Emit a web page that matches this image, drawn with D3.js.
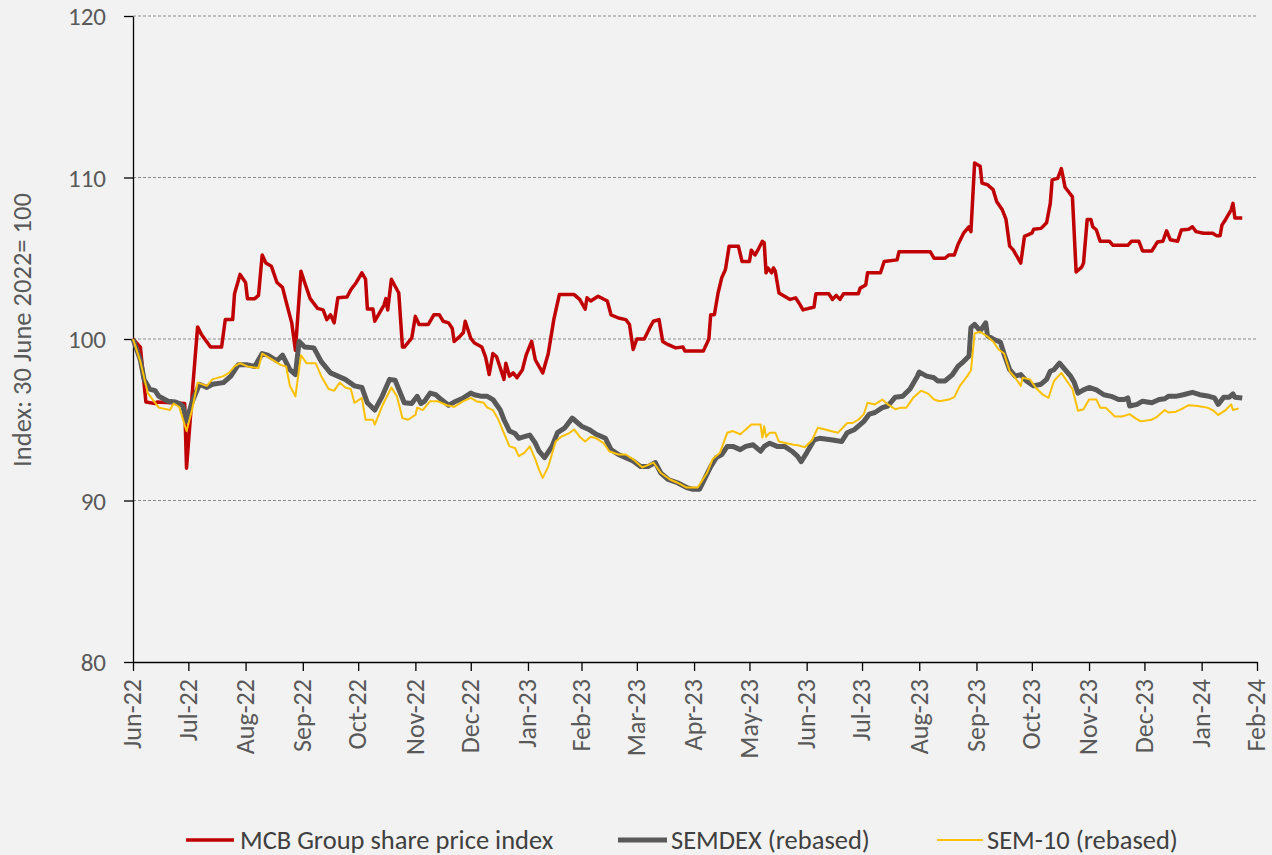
<!DOCTYPE html>
<html><head><meta charset="utf-8">
<script src="https://cdn.jsdelivr.net/npm/d3@7"></script>
<style>
html,body{margin:0;padding:0;background:#f2f2f2;}
svg{display:block;}
text{font-family:Carlito, Calibri, Lato, "Open Sans", sans-serif;}
</style></head><body>
<svg id="chart" width="1272" height="855"></svg>
<script>
// ---------- DATA ----------
const seriesNames = ["MCB Group share price index", "SEMDEX (rebased)", "SEM-10 (rebased)"];
const yAxisTitle = "Index: 30 June 2022= 100";
const yTicks = [80, 90, 100, 110, 120];
const xDomain = ["2022-06-30", "2024-02-29"];
const xTickDates = ["2022-06-30","2022-07-30","2022-08-30","2022-09-30","2022-10-30","2022-11-30","2022-12-30",
  "2023-01-30","2023-02-28","2023-03-30","2023-04-30","2023-05-30","2023-06-30","2023-07-30","2023-08-30",
  "2023-09-30","2023-10-30","2023-11-30","2023-12-30","2024-01-30","2024-02-29"];

const mcb = [
["2022-06-30",100],["2022-07-04",99.5],["2022-07-07",96.1],["2022-07-12",96.0],["2022-07-13",96.1],["2022-07-28",96.0],
["2022-07-29",92.0],["2022-08-01",96.5],["2022-08-04",100.75],["2022-08-06",100.3],["2022-08-11",99.5],["2022-08-17",99.5],
["2022-08-19",101.2],["2022-08-23",101.2],["2022-08-24",102.8],["2022-08-27",104.0],["2022-08-30",103.5],["2022-08-31",102.5],
["2022-09-04",102.5],["2022-09-06",102.7],["2022-09-08",105.2],["2022-09-10",104.7],["2022-09-13",104.5],["2022-09-16",103.5],
["2022-09-19",103.2],["2022-09-21",102.3],["2022-09-24",101.0],["2022-09-26",99.3],["2022-09-29",104.2],["2022-10-01",103.5],
["2022-10-04",102.5],["2022-10-08",101.9],["2022-10-11",101.8],["2022-10-13",101.2],["2022-10-15",101.5],["2022-10-17",101.0],
["2022-10-19",102.55],["2022-10-24",102.6],["2022-10-26",103.05],["2022-10-29",103.5],["2022-11-01",104.1],["2022-11-03",103.7],
["2022-11-04",101.85],["2022-11-07",101.85],["2022-11-08",101.1],["2022-11-13",102.1],["2022-11-14",102.5],["2022-11-15",101.8],
["2022-11-17",103.7],["2022-11-21",102.85],["2022-11-23",99.5],["2022-11-24",99.5],["2022-11-28",100.05],["2022-11-30",101.4],
["2022-12-02",100.9],["2022-12-07",100.9],["2022-12-10",101.5],["2022-12-13",101.5],["2022-12-15",101.1],["2022-12-18",101.0],
["2022-12-20",100.65],["2022-12-21",99.85],["2022-12-24",100.15],["2022-12-26",100.4],["2022-12-27",101.1],["2022-12-30",100.05],
["2023-01-01",99.75],["2023-01-05",99.5],["2023-01-07",98.9],["2023-01-09",97.8],["2023-01-11",99.1],["2023-01-13",98.9],
["2023-01-15",98.2],["2023-01-17",97.5],["2023-01-18",98.5],["2023-01-20",97.7],["2023-01-22",97.9],["2023-01-24",97.6],
["2023-01-27",98.1],["2023-01-29",99.0],["2023-02-01",99.85],["2023-02-03",98.7],["2023-02-05",98.3],["2023-02-07",97.9],
["2023-02-10",99.1],["2023-02-13",101.2],["2023-02-16",102.75],["2023-02-24",102.75],["2023-02-27",102.45],["2023-03-02",101.85],
["2023-03-03",102.55],["2023-03-05",102.35],["2023-03-09",102.65],["2023-03-14",102.35],["2023-03-16",101.5],["2023-03-20",101.3],
["2023-03-24",101.2],["2023-03-26",100.9],["2023-03-28",99.35],["2023-03-30",100.0],["2023-04-03",100.0],["2023-04-06",100.7],
["2023-04-08",101.1],["2023-04-11",101.2],["2023-04-13",99.85],["2023-04-16",99.65],["2023-04-20",99.45],["2023-04-24",99.5],
["2023-04-25",99.25],["2023-05-05",99.25],["2023-05-08",100.0],["2023-05-09",101.5],["2023-05-11",101.5],["2023-05-13",102.85],
["2023-05-15",103.8],["2023-05-17",104.3],["2023-05-19",105.75],["2023-05-24",105.75],["2023-05-26",104.8],["2023-05-30",104.8],
["2023-05-31",105.5],["2023-06-02",105.2],["2023-06-04",105.6],["2023-06-06",106.05],["2023-06-07",105.95],["2023-06-08",104.1],
["2023-06-09",104.4],["2023-06-11",104.1],["2023-06-12",104.4],["2023-06-13",104.2],["2023-06-15",102.85],["2023-06-18",102.65],
["2023-06-21",102.45],["2023-06-24",102.55],["2023-06-26",102.2],["2023-06-28",101.8],["2023-07-04",101.98],["2023-07-05",102.8],
["2023-07-12",102.8],["2023-07-14",102.45],["2023-07-16",102.7],["2023-07-18",102.45],["2023-07-20",102.8],["2023-07-28",102.8],
["2023-07-29",103.15],["2023-08-01",103.35],["2023-08-02",104.1],["2023-08-09",104.1],["2023-08-11",104.8],["2023-08-18",104.9],
["2023-08-19",105.4],["2023-09-05",105.4],["2023-09-07",105.0],["2023-09-13",105.0],["2023-09-15",105.2],["2023-09-18",105.2],
["2023-09-20",105.85],["2023-09-23",106.55],["2023-09-26",106.95],["2023-09-27",106.65],["2023-09-29",110.9],["2023-10-02",110.7],
["2023-10-03",109.65],["2023-10-06",109.55],["2023-10-09",109.25],["2023-10-11",108.5],["2023-10-14",108.0],["2023-10-16",107.4],
["2023-10-18",105.75],["2023-10-20",105.5],["2023-10-24",104.7],["2023-10-26",106.35],["2023-10-30",106.55],["2023-10-31",106.8],
["2023-11-04",106.85],["2023-11-07",107.2],["2023-11-09",108.4],["2023-11-10",109.85],["2023-11-13",109.95],["2023-11-15",110.55],
["2023-11-17",109.4],["2023-11-19",109.1],["2023-11-21",108.8],["2023-11-23",104.15],["2023-11-26",104.45],["2023-11-27",104.7],
["2023-11-29",107.4],["2023-12-01",107.4],["2023-12-02",106.95],["2023-12-04",106.75],["2023-12-06",106.05],["2023-12-11",106.05],
["2023-12-13",105.8],["2023-12-21",105.8],["2023-12-23",106.05],["2023-12-27",106.05],["2023-12-29",105.45],["2024-01-03",105.45],
["2024-01-06",106.0],["2024-01-09",106.05],["2024-01-11",106.7],["2024-01-13",106.15],["2024-01-17",106.05],["2024-01-19",106.75],
["2024-01-23",106.8],["2024-01-25",106.95],["2024-01-27",106.65],["2024-01-31",106.55],["2024-02-05",106.55],["2024-02-07",106.4],
["2024-02-09",106.4],["2024-02-10",107.05],["2024-02-12",107.4],["2024-02-15",108.0],["2024-02-16",108.4],["2024-02-17",107.5],
["2024-02-21",107.5]
];

const semdex = [
["2022-06-30",100],["2022-07-04",98.7],["2022-07-06",97.5],["2022-07-09",96.9],["2022-07-12",96.8],["2022-07-14",96.45],
["2022-07-19",96.15],["2022-07-23",96.1],["2022-07-25",96.0],["2022-07-27",95.85],["2022-07-29",94.9],["2022-08-01",96.1],
["2022-08-05",97.2],["2022-08-09",97.0],["2022-08-12",97.2],["2022-08-18",97.3],["2022-08-20",97.5],["2022-08-22",97.7],
["2022-08-26",98.4],["2022-08-31",98.4],["2022-09-04",98.3],["2022-09-08",99.1],["2022-09-11",99.0],["2022-09-16",98.65],
["2022-09-19",99.0],["2022-09-23",98.1],["2022-09-26",97.8],["2022-09-28",99.85],["2022-10-01",99.5],["2022-10-06",99.45],
["2022-10-10",98.6],["2022-10-15",97.9],["2022-10-19",97.7],["2022-10-23",97.5],["2022-10-28",97.1],["2022-11-01",97.0],
["2022-11-04",96.05],["2022-11-08",95.6],["2022-11-12",96.45],["2022-11-16",97.5],["2022-11-19",97.45],["2022-11-24",96.05],
["2022-11-28",96.0],["2022-12-01",96.45],["2022-12-03",96.0],["2022-12-05",96.15],["2022-12-08",96.65],["2022-12-11",96.55],
["2022-12-14",96.25],["2022-12-18",95.9],["2022-12-22",96.15],["2022-12-26",96.35],["2022-12-30",96.65],["2023-01-01",96.55],
["2023-01-05",96.45],["2023-01-08",96.45],["2023-01-11",96.25],["2023-01-15",95.6],["2023-01-17",95.0],["2023-01-20",94.3],
["2023-01-23",94.15],["2023-01-25",93.85],["2023-01-28",93.95],["2023-01-31",94.05],["2023-02-03",93.55],["2023-02-05",93.05],
["2023-02-08",92.65],["2023-02-12",93.35],["2023-02-15",94.2],["2023-02-19",94.5],["2023-02-23",95.1],["2023-02-24",95.0],
["2023-02-28",94.6],["2023-03-04",94.4],["2023-03-08",94.1],["2023-03-13",93.85],["2023-03-16",93.15],["2023-03-20",92.85],
["2023-03-24",92.65],["2023-03-28",92.45],["2023-04-01",92.1],["2023-04-05",92.1],["2023-04-09",92.35],["2023-04-12",91.7],
["2023-04-16",91.3],["2023-04-21",91.1],["2023-04-26",90.8],["2023-04-29",90.7],["2023-05-03",90.7],["2023-05-06",91.4],
["2023-05-09",92.1],["2023-05-12",92.65],["2023-05-15",92.85],["2023-05-18",93.35],["2023-05-21",93.35],["2023-05-25",93.15],
["2023-05-28",93.35],["2023-06-01",93.45],["2023-06-05",93.05],["2023-06-07",93.35],["2023-06-10",93.55],["2023-06-14",93.35],
["2023-06-18",93.35],["2023-06-22",93.05],["2023-06-25",92.75],["2023-06-27",92.4],["2023-06-30",92.95],["2023-07-04",93.75],
["2023-07-07",93.85],["2023-07-14",93.75],["2023-07-19",93.65],["2023-07-22",94.2],["2023-07-26",94.4],["2023-07-31",94.9],
["2023-08-03",95.35],["2023-08-06",95.45],["2023-08-10",95.75],["2023-08-13",95.85],["2023-08-17",96.4],["2023-08-21",96.45],
["2023-08-25",96.9],["2023-08-29",97.7],["2023-08-30",97.95],["2023-09-03",97.7],["2023-09-07",97.6],["2023-09-09",97.4],
["2023-09-13",97.4],["2023-09-17",97.8],["2023-09-20",98.3],["2023-09-23",98.6],["2023-09-26",98.95],["2023-09-27",100.7],
["2023-09-29",100.9],["2023-10-02",100.5],["2023-10-05",101.0],["2023-10-06",100.2],["2023-10-09",100.0],["2023-10-13",99.8],
["2023-10-15",99.05],["2023-10-18",98.1],["2023-10-21",97.7],["2023-10-24",97.8],["2023-10-27",97.4],["2023-10-31",97.1],
["2023-11-04",97.2],["2023-11-07",97.5],["2023-11-09",98.0],["2023-11-11",98.1],["2023-11-14",98.5],["2023-11-17",98.1],
["2023-11-20",97.7],["2023-11-22",97.3],["2023-11-24",96.65],["2023-11-27",96.85],["2023-11-30",97.0],["2023-12-04",96.85],
["2023-12-08",96.55],["2023-12-12",96.45],["2023-12-16",96.25],["2023-12-19",96.25],["2023-12-21",96.35],["2023-12-22",95.85],
["2023-12-26",95.95],["2023-12-29",96.15],["2024-01-03",96.05],["2024-01-07",96.25],["2024-01-10",96.3],["2024-01-12",96.45],
["2024-01-16",96.45],["2024-01-20",96.55],["2024-01-25",96.7],["2024-01-29",96.55],["2024-02-03",96.45],["2024-02-06",96.35],
["2024-02-08",95.95],["2024-02-11",96.4],["2024-02-14",96.4],["2024-02-16",96.6],["2024-02-17",96.4],["2024-02-21",96.35]
];

const sem10 = [
["2022-06-30",100],["2022-07-04",98.6],["2022-07-08",96.65],["2022-07-14",95.75],["2022-07-20",95.6],["2022-07-22",96.0],
["2022-07-25",95.8],["2022-07-29",94.3],["2022-08-01",95.6],["2022-08-04",97.3],["2022-08-09",97.1],["2022-08-12",97.5],
["2022-08-18",97.7],["2022-08-21",97.9],["2022-08-24",98.3],["2022-08-27",98.5],["2022-08-31",98.3],["2022-09-06",98.2],
["2022-09-08",99.1],["2022-09-13",98.75],["2022-09-18",98.4],["2022-09-21",98.3],["2022-09-23",97.1],["2022-09-26",96.45],
["2022-09-29",99.0],["2022-10-02",98.5],["2022-10-07",98.5],["2022-10-10",97.7],["2022-10-14",96.9],["2022-10-17",96.8],
["2022-10-20",97.3],["2022-10-23",97.0],["2022-10-26",96.9],["2022-10-28",96.05],["2022-11-01",96.35],["2022-11-03",95.0],
["2022-11-07",95.0],["2022-11-08",94.7],["2022-11-12",95.85],["2022-11-17",97.0],["2022-11-20",96.45],["2022-11-23",95.1],
["2022-11-26",95.0],["2022-11-30",95.3],["2022-12-01",95.75],["2022-12-04",95.6],["2022-12-08",96.15],["2022-12-12",96.15],
["2022-12-17",95.9],["2022-12-21",95.8],["2022-12-26",96.15],["2022-12-30",96.35],["2023-01-02",96.15],["2023-01-06",96.05],
["2023-01-08",95.75],["2023-01-11",95.6],["2023-01-14",95.0],["2023-01-17",94.15],["2023-01-20",93.35],["2023-01-23",93.25],
["2023-01-25",92.75],["2023-01-28",92.95],["2023-01-31",93.35],["2023-02-03",92.55],["2023-02-05",91.9],["2023-02-07",91.4],
["2023-02-10",92.1],["2023-02-14",93.65],["2023-02-17",93.95],["2023-02-21",94.15],["2023-02-24",94.4],["2023-02-27",93.95],
["2023-03-02",93.65],["2023-03-05",93.95],["2023-03-08",93.85],["2023-03-12",93.55],["2023-03-15",93.05],["2023-03-20",92.85],
["2023-03-24",92.85],["2023-03-28",92.55],["2023-04-02",92.05],["2023-04-08",92.35],["2023-04-12",91.7],["2023-04-17",91.3],
["2023-04-21",91.1],["2023-04-26",90.8],["2023-05-02",90.8],["2023-05-07",91.7],["2023-05-10",92.55],["2023-05-14",92.95],
["2023-05-18",94.2],["2023-05-21",94.3],["2023-05-25",94.1],["2023-05-28",94.4],["2023-05-31",94.7],["2023-06-05",94.7],
["2023-06-06",93.9],["2023-06-07",94.6],["2023-06-08",93.95],["2023-06-10",94.2],["2023-06-13",94.2],["2023-06-15",93.65],
["2023-06-19",93.55],["2023-06-23",93.45],["2023-06-26",93.4],["2023-06-29",93.3],["2023-07-03",93.75],["2023-07-06",94.5],
["2023-07-10",94.4],["2023-07-13",94.3],["2023-07-17",94.2],["2023-07-22",94.8],["2023-07-25",94.8],["2023-07-28",95.0],
["2023-07-31",95.35],["2023-08-02",96.05],["2023-08-06",95.95],["2023-08-10",96.25],["2023-08-13",95.95],["2023-08-17",95.65],
["2023-08-20",95.75],["2023-08-23",95.75],["2023-08-27",96.4],["2023-08-31",96.8],["2023-09-04",96.6],["2023-09-07",96.25],
["2023-09-10",96.15],["2023-09-15",96.25],["2023-09-18",96.4],["2023-09-21",97.1],["2023-09-25",97.7],["2023-09-27",98.05],
["2023-09-29",100.35],["2023-10-02",100.45],["2023-10-06",100.15],["2023-10-09",99.85],["2023-10-12",99.35],["2023-10-15",99.1],
["2023-10-18",98.0],["2023-10-21",97.6],["2023-10-24",97.1],["2023-10-25",97.6],["2023-10-29",97.5],["2023-11-01",97.0],
["2023-11-05",96.55],["2023-11-08",96.35],["2023-11-11",97.4],["2023-11-15",97.9],["2023-11-18",97.4],["2023-11-21",96.9],
["2023-11-24",95.55],["2023-11-27",95.65],["2023-11-29",96.05],["2023-11-30",96.25],["2023-12-04",96.25],["2023-12-06",95.75],
["2023-12-09",95.75],["2023-12-14",95.2],["2023-12-18",95.2],["2023-12-22",95.35],["2023-12-25",95.1],["2023-12-28",94.9],
["2024-01-03",95.0],["2024-01-06",95.2],["2024-01-10",95.6],["2024-01-12",95.45],["2024-01-16",95.5],["2024-01-18",95.6],
["2024-01-23",95.9],["2024-01-28",95.85],["2024-02-02",95.75],["2024-02-05",95.6],["2024-02-08",95.3],["2024-02-12",95.6],
["2024-02-15",95.95],["2024-02-16",95.6],["2024-02-19",95.7]
];

// ---------- LAYOUT / STYLE ----------
const W = 1272, H = 855;
const plot = {left: 133, right: 1257, top: 16, bottom: 662};
const styles = [
  {color: "#c00000", width: 3.5},
  {color: "#595959", width: 5},
  {color: "#ffc000", width: 2}
];
const textColor = "#404040";
const fontFamily = 'Carlito, Calibri, Lato, "Open Sans", sans-serif';

const parse = d3.timeParse("%Y-%m-%d");
const fmt = d3.timeFormat("%b-%y");
const svg = d3.select("#chart");

svg.append("rect").attr("width", W).attr("height", H).attr("fill", "#f2f2f2");

const x = d3.scaleTime().domain(xDomain.map(parse)).range([plot.left, plot.right]);
const y = d3.scaleLinear().domain([yTicks[0], yTicks[yTicks.length - 1]]).range([plot.bottom, plot.top]);

function fitSize(sel, target) {
  const w = sel.node().getComputedTextLength();
  const fs = parseFloat(sel.attr("font-size"));
  return w > 0 ? fs * target / w : fs;
}

// gridlines
svg.append("g").selectAll("line").data(yTicks.slice(1)).join("line")
  .attr("x1", plot.left).attr("x2", plot.right)
  .attr("y1", d => y(d)).attr("y2", d => y(d))
  .attr("stroke", "#8c8c8c").attr("stroke-width", 1).attr("stroke-dasharray", "3,2");

// y axis
const yAxis = svg.append("g").attr("transform", `translate(${plot.left},0)`)
  .call(d3.axisLeft(y).tickValues(yTicks).tickSize(9).tickSizeOuter(0).tickPadding(18).tickFormat(d3.format("d")));
yAxis.select(".domain").attr("stroke", "#000").attr("stroke-width", 1.3);
yAxis.selectAll(".tick line").attr("stroke", "#000").attr("stroke-width", 1.3);
yAxis.selectAll(".tick text").attr("fill", "#595959").attr("font-family", fontFamily).attr("font-size", 22);
{
  const t = yAxis.selectAll(".tick text").filter(d => d === 120);
  const fs = fitSize(t, 38);
  yAxis.selectAll(".tick text").attr("font-size", fs).attr("dy", "0.35em");
}

// x axis
const xAxis = svg.append("g").attr("transform", `translate(0,${plot.bottom})`)
  .call(d3.axisBottom(x).tickValues(xTickDates.map(parse)).tickSize(9).tickSizeOuter(0).tickFormat(fmt));
xAxis.select(".domain").attr("stroke", "#000").attr("stroke-width", 1.3);
xAxis.selectAll(".tick line").attr("stroke", "#000").attr("stroke-width", 1.3);
const xt = xAxis.selectAll(".tick text")
  .attr("fill", "#595959").attr("font-family", fontFamily).attr("font-size", 22)
  .attr("transform", "rotate(-90)").attr("text-anchor", "end")
  .attr("x", -17).attr("y", 0).attr("dy", "0.3em");
{
  const first = xAxis.selectAll(".tick text").filter((d, i) => i === 0);
  const fs = fitSize(first, 70);
  xt.attr("font-size", fs);
}

// y axis title
const yt = svg.append("text")
  .attr("transform", "translate(22,330) rotate(-90)")
  .attr("text-anchor", "middle").attr("dy", "0.35em")
  .attr("fill", "#595959").attr("font-family", fontFamily).attr("font-size", 22)
  .text(yAxisTitle);
yt.attr("font-size", fitSize(yt, 274));

// lines
const line = d3.line().x(d => x(parse(d[0]))).y(d => y(d[1]));
const allSeries = [mcb, semdex, sem10];
svg.append("g").selectAll("path").data(allSeries).join("path")
  .attr("d", line)
  .attr("fill", "none")
  .attr("stroke", (d, i) => styles[i].color)
  .attr("stroke-width", (d, i) => styles[i].width)
  .attr("stroke-linejoin", "round")
  .attr("stroke-linecap", "butt");

// legend
const legendY = 840;
const legendItems = [
  {x1: 186, x2: 234, tx: 240},
  {x1: 618, x2: 667, tx: 671},
  {x1: 937, x2: 983, tx: 987}
];
const lg = svg.append("g");
lg.selectAll("line").data(seriesNames).join("line")
  .attr("x1", (d, i) => legendItems[i].x1).attr("x2", (d, i) => legendItems[i].x2)
  .attr("y1", legendY).attr("y2", legendY)
  .attr("stroke", (d, i) => styles[i].color).attr("stroke-width", (d, i) => styles[i].width);
const lt = lg.selectAll("text").data(seriesNames).join("text")
  .attr("x", (d, i) => legendItems[i].tx).attr("y", legendY).attr("dy", "0.35em")
  .attr("fill", textColor).attr("font-family", fontFamily).attr("font-size", 22)
  .text(d => d);
{
  const fs = fitSize(lt.filter((d, i) => i === 1), 199);
  lt.attr("font-size", fs);
}
</script>
</body></html>
